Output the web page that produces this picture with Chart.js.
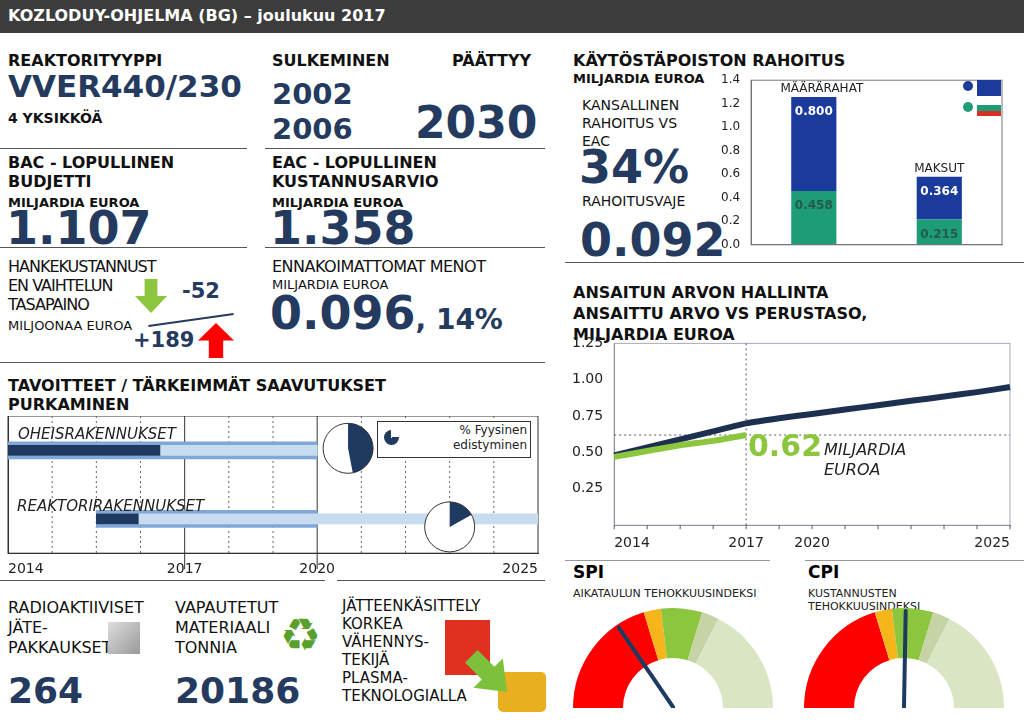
<!DOCTYPE html>
<html><head><meta charset="utf-8">
<script src="https://cdn.jsdelivr.net/npm/chart.js@4/dist/chart.umd.min.js"></script>
<style>
body{margin:0;width:1024px;height:724px;position:relative;background:#fff;font-family:"DejaVu Sans",Verdana,sans-serif;overflow:hidden}
.a{position:absolute;white-space:nowrap}
.h{font-weight:bold;font-size:16px;color:#111;line-height:19px}
.s{font-weight:bold;font-size:13px;color:#111}
.n{font-weight:bold;color:#243a5e}
.t{font-size:15px;color:#111;line-height:18px}
.ln{position:absolute;height:1px;background:#555}
canvas{position:absolute}
</style></head><body>
<div class="a" style="left:0;top:0;width:1024px;height:33px;background:#3c3c3c"></div>
<div class="a" style="left:8px;top:6px;color:#fff;font-weight:bold;font-size:16px">KOZLODUY-OHJELMA (BG) – joulukuu 2017</div>

<div class="a h" style="left:8px;top:51px">REAKTORITYYPPI</div>
<div class="a n" style="left:8px;top:68px;font-size:31px">VVER440/230</div>
<div class="a s" style="left:8px;top:110px;font-size:14px">4 YKSIKKÖÄ</div>
<div class="a h" style="left:272px;top:51px">SULKEMINEN</div>
<div class="a h" style="left:452px;top:51px">PÄÄTTYY</div>
<div class="a n" style="left:272px;top:77px;font-size:29px">2002</div>
<div class="a n" style="left:272px;top:112px;font-size:29px">2006</div>
<div class="a n" style="left:415px;top:97px;font-size:44px">2030</div>
<div class="ln" style="left:0;top:148px;width:247px"></div>
<div class="ln" style="left:265px;top:148px;width:280px"></div>

<div class="a h" style="left:8px;top:153px">BAC - LOPULLINEN<br>BUDJETTI</div>
<div class="a s" style="left:8px;top:195px">MILJARDIA EUROA</div>
<div class="a n" style="left:6px;top:201px;font-size:46px">1.107</div>
<div class="a h" style="left:272px;top:153px">EAC - LOPULLINEN<br>KUSTANNUSARVIO</div>
<div class="a s" style="left:272px;top:195px">MILJARDIA EUROA</div>
<div class="a n" style="left:270px;top:201px;font-size:46px">1.358</div>
<div class="ln" style="left:0;top:247px;width:247px"></div>
<div class="ln" style="left:265px;top:247px;width:280px"></div>

<div class="a" style="left:8px;top:257px;font-size:16px;line-height:19px;letter-spacing:-1px;color:#111">HANKEKUSTANNUST<br>EN VAIHTELUN<br>TASAPAINO</div>
<div class="a" style="left:8px;top:318px;font-size:13px;color:#111">MILJOONAA EUROA</div>
<div class="a" style="left:135px;top:279px;width:32px;height:34px;background:#8cc63f;clip-path:polygon(30% 0,70% 0,70% 50%,100% 50%,50% 100%,0 50%,30% 50%)"></div>
<div class="a" style="left:198px;top:323px;width:36px;height:35px;background:#f00;clip-path:polygon(50% 0,100% 50%,70% 50%,70% 100%,30% 100%,30% 50%,0 50%)"></div>
<div class="a n" style="left:182px;top:279px;font-size:21px">-52</div>
<div class="a n" style="left:133px;top:328px;font-size:21px">+189</div>
<div class="a" style="left:148px;top:319px;width:86px;height:2px;background:#243a5e;transform:rotate(-8deg)"></div>
<div class="a" style="left:272px;top:257px;font-size:16px;color:#111;letter-spacing:-0.5px">ENNAKOIMATTOMAT MENOT</div>
<div class="a" style="left:272px;top:277px;font-size:13px;color:#111">MILJARDIA EUROA</div>
<div class="a n" style="left:270px;top:286px;font-size:46px">0.096<span style="font-size:28px">, 14%</span></div>
<div class="ln" style="left:0;top:362px;width:545px"></div>

<div class="a h" style="left:8px;top:376px">TAVOITTEET / TÄRKEIMMÄT SAAVUTUKSET<br>PURKAMINEN</div>
<canvas id="gantt" style="left:0px;top:416px;width:542px;height:162px"></canvas>
<div class="a" style="left:18px;top:425px;font-style:italic;font-size:15px;color:#222">OHEISRAKENNUKSET</div>
<div class="a" style="left:17px;top:497px;font-style:italic;font-size:15px;color:#222">REAKTORIRAKENNUKSET</div>
<div class="a" style="left:377px;top:421px;width:152px;height:35px;border:1px solid #333;background:#fff"></div>
<div class="a" style="left:384px;top:430px;width:15px;height:15px;border-radius:50%;background:conic-gradient(#fff 0 25%,#1e3a60 25% 100%)"></div>
<div class="a" style="left:405px;top:423px;width:122px;text-align:right;font-size:12px;line-height:15px;color:#222">% Fyysinen<br>edistyminen</div>
<div class="ln" style="left:0;top:580px;width:325px"></div>
<div class="ln" style="left:337px;top:580px;width:208px"></div>

<div class="a t" style="left:8px;top:598px;font-size:16px;line-height:20px">RADIOAKTIIVISET<br>JÄTE-<br>PAKKAUKSET</div>
<div class="a" style="left:108px;top:622px;width:32px;height:32px;background:linear-gradient(135deg,#ddd,#999)"></div>
<div class="a n" style="left:8px;top:670px;font-size:36px">264</div>
<div class="a t" style="left:175px;top:598px;font-size:16px;line-height:20px">VAPAUTETUT<br>MATERIAALI<br>TONNIA</div>
<div class="a" style="left:280px;top:608px;font-size:46px;color:#5aa02c">♻</div>
<div class="a n" style="left:175px;top:670px;font-size:36px">20186</div>
<div class="a" style="left:445px;top:620px;width:45px;height:55px;background:#e03020"></div>
<div class="a" style="left:498px;top:672px;width:48px;height:40px;background:#e8b020;border-radius:5px"></div>
<div class="a" style="left:465px;top:650px;width:42px;height:42px;background:#7cc03c;clip-path:polygon(0 30%,30% 0,70% 40%,90% 20%,100% 100%,20% 90%,40% 70%)"></div>
<div class="a t" style="left:342px;top:597px">JÄTTEENKÄSITTELY<br>KORKEA<br>VÄHENNYS-<br>TEKIJÄ<br>PLASMA-<br>TEKNOLOGIALLA</div>

<div class="a h" style="left:573px;top:51px">KÄYTÖSTÄPOISTON RAHOITUS</div>
<div class="a s" style="left:573px;top:71px">MILJARDIA EUROA</div>
<div class="a" style="left:582px;top:96px;font-size:14px;line-height:18px;color:#111">KANSALLINEN<br>RAHOITUS VS<br>EAC</div>
<div class="a n" style="left:579px;top:140px;font-size:46px">34%</div>
<div class="a" style="left:582px;top:193px;font-size:14px;color:#111">RAHOITUSVAJE</div>
<div class="a n" style="left:580px;top:213px;font-size:46px">0.092</div>
<canvas id="bar" style="left:718px;top:70px;width:286px;height:185px"></canvas>
<div class="a" style="left:963px;top:81px;width:10px;height:10px;border-radius:50%;background:#1a3a9c"></div>
<div class="a" style="left:977px;top:80px;width:24px;height:16px;background:#1a3a9c"></div>
<div class="a" style="left:963px;top:102px;width:10px;height:10px;border-radius:50%;background:#1e9c78"></div>
<div class="a" style="left:977px;top:100px;width:24px;height:16px;background:linear-gradient(#fff 0 33%,#1e9c78 33% 66%,#d83020 66%)"></div>
<div class="ln" style="left:565px;top:262px;width:459px"></div>

<div class="a h" style="left:573px;top:282px;line-height:21px">ANSAITUN ARVON HALLINTA<br>ANSAITTU ARVO VS PERUSTASO,<br>MILJARDIA EUROA</div>
<canvas id="line" style="left:565px;top:332px;width:455px;height:222px"></canvas>
<div class="a" style="left:748px;top:428px;font-weight:bold;font-size:30px;color:#8cc63f">0.62</div>
<div class="a" style="left:824px;top:440px;font-style:italic;font-size:16px;line-height:20px;color:#222">MILJARDIA<br>EUROA</div>

<div class="ln" style="left:565px;top:560px;width:205px;background:#999"></div>
<div class="ln" style="left:805px;top:560px;width:219px;background:#999"></div>
<div class="a" style="left:573px;top:562px;font-weight:bold;font-size:17px">SPI</div>
<div class="a" style="left:573px;top:587px;font-size:11px;color:#222">AIKATAULUN TEHOKKUUSINDEKSI</div>
<div class="a" style="left:808px;top:562px;font-weight:bold;font-size:17px">CPI</div>
<div class="a" style="left:808px;top:587px;font-size:11px;line-height:13px;color:#222">KUSTANNUSTEN<br>TEHOKKUUSINDEKSI</div>
<canvas id="spi" style="left:573px;top:608px;width:200px;height:100px"></canvas>
<canvas id="cpi" style="left:804px;top:608px;width:200px;height:100px"></canvas>

<script>
// ---- data ----
const fundCats = ['MÄÄRÄRAHAT','MAKSUT'];
const fundNational = [0.458, 0.215];
const fundEU = [0.800, 0.364];

const evLabels = ['2014','','','','2017','','2020','','','','','','2025'];
const evBaseline = [0.48,0.535,0.59,0.645,0.70,0.735,0.765,0.795,0.825,0.855,0.885,0.915,0.95];
const evEarned = [0.47,0.51,0.55,0.58,0.62,null,null,null,null,null,null,null,null];
const evCurrent = 0.62;

const ganttRows = ['OHEISRAKENNUKSET','REAKTORIRAKENNUKSET'];
const ganttTickLabels = {0:'2014',4:'2017',7:'2020',12:'2025'};
const ganttPlan = [[0,7],[2,12]];
const ganttFrame = [[0,7],[2,7]];
const ganttDone = [[0,3.44],[2,2.95]];
const pieX = [7.7, 10.0];
const piePct = [47, 17];

const gaugeSegments = [73,10,24,10,63];
const gaugeColors = ['#ff0000','#f7b51c','#8cc63f','#c5d3a6','#d9e5c3'];
const spiNeedle = 56;
const cpiNeedle = 91;

Chart.defaults.font.family = '"DejaVu Sans", Verdana, sans-serif';
Chart.defaults.color = '#222';
Chart.defaults.animation = false;

// ---- funding bar ----
new Chart(document.getElementById('bar'), {
  type:'bar',
  data:{labels:fundCats, datasets:[
    {data:fundNational, backgroundColor:'#1e9c78', barPercentage:0.36, categoryPercentage:1},
    {data:fundEU, backgroundColor:'#1a3a9c', barPercentage:0.36, categoryPercentage:1}
  ]},
  options:{responsive:false, plugins:{legend:{display:false},tooltip:{enabled:false}},
    layout:{padding:{top:6,right:2}},
    scales:{
      x:{stacked:true, ticks:{display:false}, grid:{display:false}, border:{color:'#777'}},
      y:{stacked:true, min:0, max:1.4, ticks:{stepSize:0.2, font:{size:12}, callback:v=>v.toFixed(1)}, grid:{display:false}, border:{color:'#777'}}
    }},
  plugins:[{id:'lbl', afterDatasetsDraw(c){
    const ctx=c.ctx, a=c.chartArea; ctx.save();
    ctx.strokeStyle='#777'; ctx.strokeRect(a.left,a.top,a.right-a.left,a.bottom-a.top);
    ctx.textAlign='center'; ctx.font='bold 12px "DejaVu Sans"';
    c.getDatasetMeta(0).data.forEach((b,i)=>{ctx.fillStyle='#245a48';ctx.fillText(fundNational[i].toFixed(3),b.x,b.y+18);});
    c.getDatasetMeta(1).data.forEach((b,i)=>{ctx.fillStyle='#fff';ctx.fillText(fundEU[i].toFixed(3),b.x,b.y+18);
      ctx.fillStyle='#222';ctx.font='12px "DejaVu Sans"';ctx.fillText(fundCats[i],b.x+(i?0:8),b.y-5);ctx.font='bold 12px "DejaVu Sans"';});
    ctx.restore();}}]
});

// ---- earned value line ----
new Chart(document.getElementById('line'), {
  type:'line',
  data:{labels:evLabels, datasets:[
    {data:evEarned, borderColor:'#8cc63f', borderWidth:6, pointRadius:0, tension:0.2},
    {data:evBaseline, borderColor:'#1e3050', borderWidth:6, pointRadius:0, tension:0.2}
  ]},
  options:{responsive:false, plugins:{legend:{display:false},tooltip:{enabled:false}},
    layout:{padding:{right:10,left:4}},
    scales:{
      x:{offset:false, ticks:{autoSkip:false, maxRotation:0, align:'inner', font:{size:14}, padding:2}, grid:{display:false, drawOnChartArea:false}, border:{color:'#556'}},
      y:{min:0, max:1.25, ticks:{stepSize:0.25, font:{size:14}, callback:v=>v===0?'':v.toFixed(2)}, grid:{display:false}, border:{color:'#556'}}
    }},
  plugins:[{id:'ref', beforeDatasetsDraw(c){
    const ctx=c.ctx,a=c.chartArea,x=c.scales.x,y=c.scales.y; ctx.save();
    ctx.strokeStyle='#aab';ctx.strokeRect(a.left,a.top,a.right-a.left,a.bottom-a.top);
    ctx.setLineDash([2,3]); ctx.strokeStyle='#555'; ctx.lineWidth=1;
    const xv=x.getPixelForValue(4), yv=y.getPixelForValue(evCurrent);
    ctx.beginPath();ctx.moveTo(xv,a.top);ctx.lineTo(xv,a.bottom);ctx.moveTo(a.left,yv);ctx.lineTo(a.right,yv);ctx.stroke();
    ctx.setLineDash([]); ctx.strokeStyle='#556';
    for(let i=0;i<evLabels.length;i++){const p=x.getPixelForValue(i);ctx.beginPath();ctx.moveTo(p,a.bottom);ctx.lineTo(p,a.bottom+4);ctx.stroke();}
    ctx.restore();}}]
});

// ---- gantt ----
new Chart(document.getElementById('gantt'), {
  type:'bar',
  data:{labels:ganttRows, datasets:[
    {data:ganttDone, backgroundColor:'#1e3a60', barThickness:10, grouped:false},
    {data:ganttPlan, backgroundColor:'#c7dcef', barThickness:10, grouped:false},
    {data:ganttFrame, backgroundColor:'#7fa8d6', barThickness:17, grouped:false}
  ]},
  options:{indexAxis:'y', responsive:false, plugins:{legend:{display:false},tooltip:{enabled:false}},
    layout:{padding:{left:0,right:4}},
    scales:{
      x:{type:'linear', min:0, max:12, ticks:{stepSize:1, autoSkip:false, maxRotation:0, align:'inner', font:{size:14}, padding:0, callback:v=>ganttTickLabels[v]||''}, grid:{display:false}, border:{color:'#333'}},
      y:{ticks:{display:false}, grid:{display:false}, border:{color:'#333'}}
    }},
  plugins:[{id:'g', beforeDatasetsDraw(c){
    const ctx=c.ctx,a=c.chartArea,x=c.scales.x; ctx.save();
    ctx.strokeStyle='#333';ctx.lineWidth=1;ctx.strokeRect(a.left,a.top,a.right-a.left,a.bottom-a.top);
    for(let i=1;i<12;i++){const p=x.getPixelForValue(i);ctx.beginPath();
      if(i===4||i===7){ctx.setLineDash([]);ctx.strokeStyle='#333';ctx.moveTo(p,a.top);ctx.lineTo(p,a.bottom+16);}
      else{ctx.setLineDash([2,3]);ctx.strokeStyle='#666';ctx.moveTo(p,a.top);ctx.lineTo(p,a.bottom);}
      ctx.stroke();}
    ctx.restore();},
   afterDatasetsDraw(c){
    const ctx=c.ctx,x=c.scales.x,y=c.scales.y; ctx.save();
    pieX.forEach((v,i)=>{const cx=x.getPixelForValue(v), cy=y.getPixelForValue(i)+(i?8:-2), r=25;
      ctx.fillStyle='#fff';ctx.beginPath();ctx.arc(cx,cy,r,0,Math.PI*2);ctx.fill();
      ctx.fillStyle='#1e3a60';ctx.beginPath();ctx.moveTo(cx,cy);ctx.arc(cx,cy,r,-Math.PI/2,-Math.PI/2+Math.PI*2*piePct[i]/100);ctx.closePath();ctx.fill();
      ctx.strokeStyle='#333';ctx.lineWidth=1;ctx.beginPath();ctx.arc(cx,cy,r,0,Math.PI*2);ctx.stroke();});
    ctx.restore();}}]
});

// ---- gauges ----
function gauge(id, needle){
  new Chart(document.getElementById(id), {
    type:'doughnut',
    data:{datasets:[{data:gaugeSegments, backgroundColor:gaugeColors, borderWidth:0}]},
    options:{responsive:false, rotation:-90, circumference:180, cutout:'50%',
      plugins:{legend:{display:false},tooltip:{enabled:false}}, layout:{padding:0}},
    plugins:[{id:'n', afterDatasetsDraw(c){
      const arc=c.getDatasetMeta(0).data[0], ctx=c.ctx, tot=gaugeSegments.reduce((s,v)=>s+v,0);
      const ang=Math.PI+Math.PI*needle/tot, L=arc.outerRadius*0.97;
      ctx.save();ctx.strokeStyle='#1e3a60';ctx.lineWidth=4;ctx.lineCap='round';
      ctx.beginPath();ctx.moveTo(arc.x,arc.y-1);ctx.lineTo(arc.x+L*Math.cos(ang),arc.y+L*Math.sin(ang));ctx.stroke();ctx.restore();}}]
  });
}
gauge('spi', spiNeedle);
gauge('cpi', cpiNeedle);
</script>
</body></html>
